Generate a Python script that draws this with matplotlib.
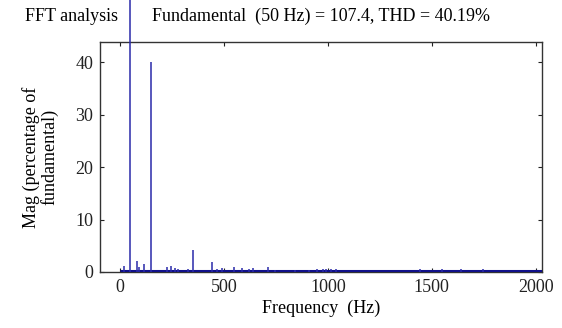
import numpy as np
import matplotlib
matplotlib.use("Agg")
import matplotlib.pyplot as plt

# harmonic spectrum, magnitude in % of fundamental
freq_hz = [18, 50, 80, 90, 116, 150, 224, 247, 263, 279, 326, 350, 445, 468,
           492, 548, 587, 619, 642, 714, 745, 840, 911, 946, 978, 990, 1014,
           1041, 1444, 1547, 1642, 1744]
mag_pct = [1.1, 100.0, 2.0, 1.0, 1.5, 40.0, 1.0, 1.2, 0.8, 0.5, 0.5, 4.2, 1.8, 0.5,
           0.8, 1.0, 0.8, 0.5, 0.8, 0.9, 0.3, 0.4, 0.3, 0.5, 0.5, 0.5, 0.5,
           0.6, 0.6, 0.6, 0.6, 0.5]
floor_span = [0, 2029]
floor_level = [0.25, 0.25]

x_ticks = [0, 500, 1000, 1500, 2000]
y_ticks = [0, 10, 20, 30, 40]

BAR_C = "#2a2aaa"
SERIF = ["Liberation Serif", "DejaVu Serif"]
FS = 13

fig = plt.figure(figsize=(5.62, 3.28), dpi=100, facecolor="white")
ax = fig.add_axes([0.178, 0.171, 0.786, 0.701])

ax.plot(floor_span, floor_level, color="#10108a", lw=2.2, solid_capstyle="butt", zorder=3)
ax.vlines(freq_hz, 0, mag_pct, colors=BAR_C, lw=1.1, clip_on=False, zorder=4)

ax.set_xlim(-96, 2029)
ax.set_ylim(0, 43.9)
ax.set_xticks(x_ticks)
ax.set_yticks(y_ticks)
ax.tick_params(direction="in", length=3, width=0.8, top=True, right=True,
               labelsize=FS, pad=5, colors="#222222")
for lab in ax.get_xticklabels() + ax.get_yticklabels():
    lab.set_family(SERIF)
for sp in ax.spines.values():
    sp.set_color("#333333")
    sp.set_linewidth(1.0)

ax.set_xlabel("Frequency  (Hz)", family=SERIF, fontsize=FS, labelpad=3)
ax.set_ylabel("Mag (percentage of\nfundamental)", family=SERIF, fontsize=FS,
              labelpad=12, linespacing=1.0)

fig.text(0.045, 0.951, "FFT analysis", family=SERIF, fontsize=FS,
         ha="left", va="center")
fig.text(0.572, 0.951, "Fundamental  (50 Hz) = 107.4, THD = 40.19%",
         family=SERIF, fontsize=FS, ha="center", va="center")

fig.savefig("out.png", dpi=100, facecolor="white")
plt.close(fig)
